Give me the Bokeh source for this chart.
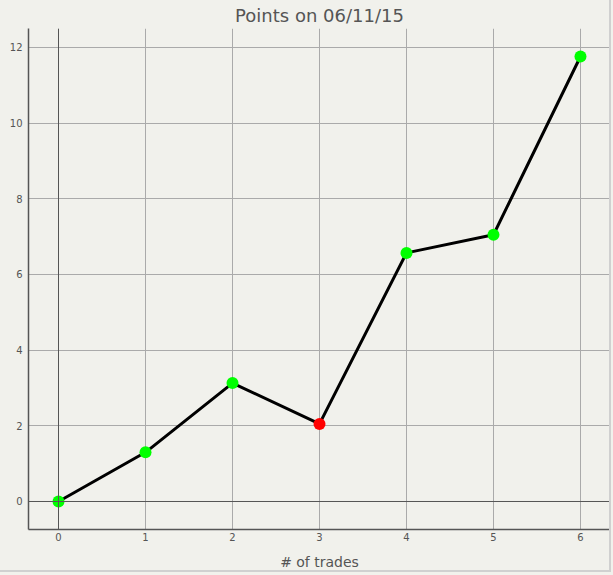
from bokeh.plotting import figure
from bokeh.models import ColumnDataSource, Span, Range1d, GlobalInlineStyleSheet, SingleIntervalTicker
from bokeh.embed import file_html
from bokeh.resources import INLINE

trades = [0, 1, 2, 3, 4, 5, 6]
points = [0.0, 1.30, 3.13, 2.05, 6.57, 7.05, 11.76]
colors = ["#00ff00", "#00ff00", "#00ff00", "#ff0000", "#00ff00", "#00ff00", "#00ff00"]
title_text = "Points on 06/11/15"
x_label = "# of trades"

BG = "#f1f1ec"
TXT = "#555555"

p = figure(width=611, height=572, output_backend="svg", toolbar_location=None,
           x_range=Range1d(-0.345, 6.345), y_range=Range1d(-0.74, 12.5),
           min_border_left=28, min_border_right=1, min_border_top=0, min_border_bottom=43)
p.stylesheets = [GlobalInlineStyleSheet(css=f"body{{background:{BG};}}")]
p.styles = {"border-right": "2px solid #d0d0d0", "border-bottom": "2px solid #d0d0d0"}
p.background_fill_color = BG
p.border_fill_color = BG
p.outline_line_color = None

p.title.text = title_text
p.title.align = "center"
p.title.text_font = "DejaVu Sans"
p.title.text_font_size = "18px"
p.title.text_font_style = "normal"
p.title.text_color = TXT
p.title.standoff = 5

p.xaxis.ticker = SingleIntervalTicker(interval=1)
p.yaxis.ticker = SingleIntervalTicker(interval=2)
for ax in (p.xaxis[0], p.yaxis[0]):
    ax.axis_line_color = "#555555"
    ax.axis_line_width = 1.5
    ax.major_tick_line_color = None
    ax.minor_tick_line_color = None
    ax.major_tick_out = 0
    ax.major_tick_in = 0
    ax.minor_tick_out = 0
    ax.major_label_text_font = "DejaVu Sans"
    ax.major_label_text_font_size = "10px"
    ax.major_label_text_color = TXT
p.xaxis.major_label_standoff = 3
p.yaxis.major_label_standoff = 6
p.xaxis.axis_label = x_label
p.xaxis.axis_label_text_font = "DejaVu Sans"
p.xaxis.axis_label_text_font_size = "14px"
p.xaxis.axis_label_text_font_style = "normal"
p.xaxis.axis_label_text_color = TXT
p.xaxis.axis_label_standoff = 10

p.xgrid.grid_line_color = "#aaaaaa"
p.ygrid.grid_line_color = "#aaaaaa"

p.add_layout(Span(location=0, dimension="height", line_color="#555555", line_width=1))
p.add_layout(Span(location=0, dimension="width", line_color="#555555", line_width=1))

src = ColumnDataSource(dict(x=trades, y=points, c=colors))
p.line("x", "y", source=src, line_color="black", line_width=3)
p.scatter("x", "y", source=src, size=12, fill_color="c", line_color=None)

open("out.html", "w").write(file_html(p, INLINE))
